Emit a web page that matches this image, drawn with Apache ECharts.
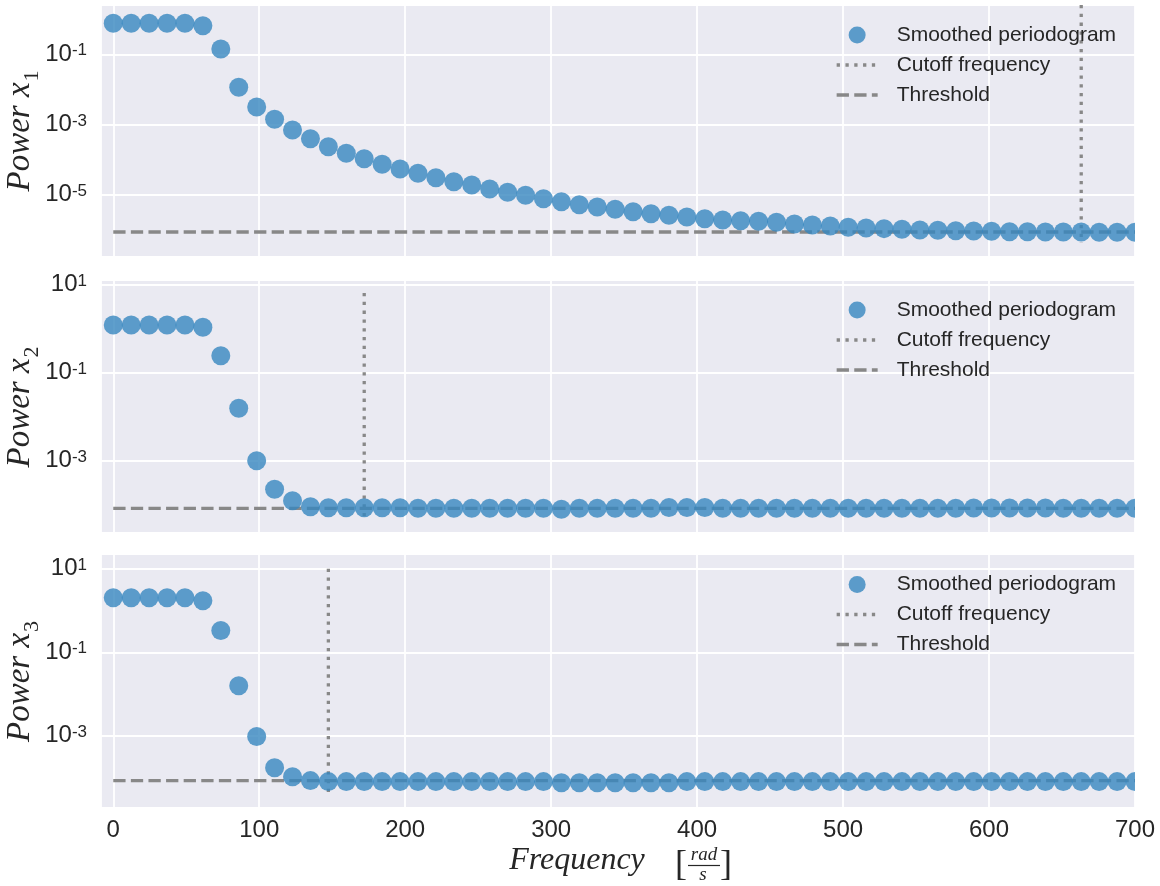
<!DOCTYPE html>
<html>
<head>
<meta charset="utf-8">
<script src="https://cdn.jsdelivr.net/npm/echarts@6/dist/echarts.min.js"></script>
<style>
  html, body { margin: 0; padding: 0; background: #ffffff; }
  #chart { width: 1160px; height: 886px; }
</style>
</head>
<body>
<div id="chart"></div>
<script>
// Frequency grid shared by all three state variables [rad/s]
const frequency = [
  0, 12.28, 24.56, 36.84, 49.12, 61.40, 73.68, 85.96, 98.25, 110.53,
  122.81, 135.09, 147.37, 159.65, 171.93, 184.21, 196.49, 208.77, 221.05, 233.33,
  245.61, 257.89, 270.18, 282.46, 294.74, 307.02, 319.30, 331.58, 343.86, 356.14,
  368.42, 380.70, 392.98, 405.26, 417.54, 429.82, 442.11, 454.39, 466.67, 478.95,
  491.23, 503.51, 515.79, 528.07, 540.35, 552.63, 564.91, 577.19, 589.47, 601.75,
  614.04, 626.32, 638.60, 650.88, 663.16, 675.44, 687.72, 700.00
];

// Smoothed periodogram of x1
const powerX1 = [
  0.766, 0.766, 0.766, 0.766, 0.766, 0.655, 0.1416, 0.01146, 3.13e-3, 1.40e-3,
  6.92e-4, 3.91e-4, 2.31e-4, 1.50e-4, 1.05e-4, 7.27e-5, 5.35e-5, 4.03e-5, 3.01e-5, 2.32e-5,
  1.87e-5, 1.43e-5, 1.16e-5, 9.49e-6, 7.59e-6, 6.23e-6, 5.12e-6, 4.40e-6, 3.78e-6, 3.23e-6,
  2.83e-6, 2.55e-6, 2.28e-6, 2.04e-6, 1.87e-6, 1.79e-6, 1.72e-6, 1.61e-6, 1.44e-6, 1.35e-6,
  1.26e-6, 1.16e-6, 1.11e-6, 1.06e-6, 1.02e-6, 9.7e-7, 9.5e-7, 9.27e-7, 9.1e-7, 8.9e-7,
  8.69e-7, 8.69e-7, 8.51e-7, 8.51e-7, 8.51e-7, 8.34e-7, 8.34e-7, 8.34e-7
];

// Smoothed periodogram of x2
const powerX2 = [
  1.21, 1.21, 1.21, 1.21, 1.21, 1.08, 0.243, 0.0155, 1.0e-3, 2.24e-4,
  1.23e-4, 9.0e-5, 8.55e-5, 8.55e-5, 8.55e-5, 8.55e-5, 8.5e-5, 8.3e-5, 8.3e-5, 8.3e-5,
  8.3e-5, 8.3e-5, 8.3e-5, 8.3e-5, 8.3e-5, 7.9e-5, 8.3e-5, 8.3e-5, 8.3e-5, 8.3e-5,
  8.3e-5, 8.6e-5, 8.6e-5, 8.6e-5, 8.3e-5, 8.3e-5, 8.3e-5, 8.3e-5, 8.3e-5, 8.3e-5,
  8.3e-5, 8.3e-5, 8.3e-5, 8.3e-5, 8.3e-5, 8.3e-5, 8.3e-5, 8.3e-5, 8.45e-5, 8.45e-5,
  8.45e-5, 8.45e-5, 8.45e-5, 8.3e-5, 8.3e-5, 8.3e-5, 8.3e-5, 8.3e-5
];

// Smoothed periodogram of x3
const powerX3 = [
  2.02, 2.02, 2.02, 2.02, 2.02, 1.71, 0.332, 0.0158, 9.6e-4, 1.71e-4,
  1.04e-4, 8.45e-5, 8.0e-5, 8.0e-5, 8.0e-5, 8.0e-5, 8.0e-5, 8.0e-5, 8.0e-5, 8.0e-5,
  8.0e-5, 8.0e-5, 8.0e-5, 8.0e-5, 8.0e-5, 7.5e-5, 7.5e-5, 7.5e-5, 7.5e-5, 7.5e-5,
  7.5e-5, 7.5e-5, 8.0e-5, 8.0e-5, 8.0e-5, 8.0e-5, 8.0e-5, 8.0e-5, 8.0e-5, 8.0e-5,
  8.0e-5, 8.0e-5, 8.0e-5, 8.0e-5, 8.0e-5, 8.0e-5, 8.0e-5, 8.0e-5, 8.0e-5, 8.0e-5,
  8.0e-5, 8.0e-5, 8.0e-5, 8.0e-5, 8.0e-5, 8.0e-5, 8.0e-5, 8.0e-5
];

const powers = [powerX1, powerX2, powerX3];
const variableIndex = ['1', '2', '3'];

// Cutoff frequency per variable and the span of its marker line
const cutoffFrequency = [663.16, 171.93, 147.37];
const cutoffLow = [4.2e-7, 4.47e-5, 3.83e-5];
const cutoffHigh = [2.55, 6.47, 10];

// Noise threshold per variable, drawn from 0 to 700 rad/s
const thresholdLevel = [8.5e-7, 8.28e-5, 8.45e-5];
const thresholdFrom = 0;
const thresholdTo = 700;

// Axis limits
const freqMin = -8.4;
const freqMax = 700;
const powerMin = [1.644e-7, 2.275e-5, 1.866e-5];
const powerMax = [2.551, 12.13, 21.33];

const seriesNames = ['Smoothed periodogram', 'Cutoff frequency', 'Threshold'];

const TEXT = '#262626';
const BG = '#eaeaf2';
const GRAY = '#888888';
const DOT = 'rgb(55,135,191)';
const CLEAR = 'rgba(0,0,0,0)';

const gridBoxes = [
  { left: 101, top: 5, width: 1034, height: 252 },
  { left: 101, top: 281, width: 1034, height: 252 },
  { left: 101, top: 555, width: 1034, height: 253 }
];
const grids = gridBoxes.map(g => Object.assign({ show: true, backgroundColor: BG, borderWidth: 0, containLabel: false, outerBoundsMode: 'none' }, g));

const legendTops = [19.5, 294.5, 569];

// Labels only on odd decades: 10^1, 10^-1, 10^-3, 10^-5
function powerLabel(v) {
  const e = Math.log10(v);
  const r = Math.round(e);
  if (Math.abs(e - r) > 1e-6 || r % 2 === 0) return '';
  return '{b|10}{s|' + r + '}';
}

const xAxes = grids.map((g, i) => ({
  type: 'value',
  gridIndex: i,
  min: freqMin,
  max: freqMax,
  axisLine: { show: false },
  axisTick: { show: false },
  axisLabel: {
    show: i === 2,
    showMinLabel: false,
    margin: 10,
    fontFamily: 'Liberation Sans',
    fontSize: 24,
    color: TEXT
  },
  splitLine: { show: true, lineStyle: { color: '#ffffff', width: 1.8 } }
}));

const yAxes = grids.map((g, i) => ({
  type: 'log',
  logBase: 10,
  gridIndex: i,
  min: powerMin[i],
  max: powerMax[i],
  axisLine: { show: false },
  axisTick: { show: false },
  // grid lines every second decade
  splitLine: { show: true, lineStyle: { color: ['#ffffff', CLEAR], width: 1.8 } },
  axisLabel: {
    margin: 14,
    formatter: powerLabel,
    rich: {
      b: { fontFamily: 'Liberation Sans', fontSize: 24, lineHeight: 24, color: TEXT, verticalAlign: 'bottom' },
      s: { fontFamily: 'Liberation Sans', fontSize: 17, lineHeight: 17, color: TEXT, verticalAlign: 'top', padding: [0, 0, 10, 0] }
    }
  },
  name: '{t|Power x}{s|' + variableIndex[i] + '}',
  nameLocation: 'middle',
  nameRotate: 90,
  nameGap: 61,
  nameMoveOverlap: false,
  nameTextStyle: {
    rich: {
      t: { fontFamily: 'Liberation Serif', fontStyle: 'italic', fontSize: 33, lineHeight: 36, color: TEXT, verticalAlign: 'top' },
      s: { fontFamily: 'Liberation Serif', fontSize: 22, lineHeight: 22, color: TEXT, verticalAlign: 'top', padding: [17, 0, 0, 1] }
    }
  }
}));

const series = [];
grids.forEach((g, i) => {
  series.push({
    name: 'Threshold',
    type: 'line',
    xAxisIndex: i,
    yAxisIndex: i,
    symbol: 'none',
    silent: true,
    z: 2,
    itemStyle: { color: CLEAR },
    lineStyle: { color: GRAY, width: 3.3, type: [12.3, 5.3], cap: 'butt' },
    data: [[thresholdFrom, thresholdLevel[i]], [thresholdTo, thresholdLevel[i]]]
  });
  series.push({
    name: 'Cutoff frequency',
    type: 'line',
    xAxisIndex: i,
    yAxisIndex: i,
    symbol: 'none',
    silent: true,
    z: 2,
    itemStyle: { color: CLEAR },
    lineStyle: { color: GRAY, width: 3.3, type: [3.3, 5.5], cap: 'butt' },
    data: [[cutoffFrequency[i], cutoffHigh[i]], [cutoffFrequency[i], cutoffLow[i]]]
  });
  series.push({
    name: 'Smoothed periodogram',
    type: 'scatter',
    xAxisIndex: i,
    yAxisIndex: i,
    symbol: 'circle',
    symbolSize: 19,
    silent: true,
    clip: true,
    z: 3,
    itemStyle: { color: DOT, opacity: 0.8 },
    data: frequency.map((f, k) => [f, powers[i][k]])
  });
});

const legends = grids.map((g, i) => ({
  orient: 'vertical',
  left: 830,
  top: legendTops[i],
  padding: 5,
  itemWidth: 41,
  itemHeight: 17,
  itemGap: 9,
  selectedMode: false,
  textStyle: { fontFamily: 'Liberation Sans', fontSize: 21, color: TEXT, padding: [0, 0, 0, 14] },
  data: [
    { name: seriesNames[0], itemStyle: { color: DOT, opacity: 0.8 } },
    { name: seriesNames[1], itemStyle: { opacity: 0 }, lineStyle: { width: 3.3, color: GRAY, type: [3.3, 5.5] } },
    { name: seriesNames[2], itemStyle: { opacity: 0 }, lineStyle: { width: 3.3, color: GRAY, type: [12.3, 5.3] } }
  ]
}));

// White margin strips to the right of each panel so markers stop at the frame edge
const rightMargins = gridBoxes.map(g => ({
  type: 'rect',
  z: 100,
  silent: true,
  shape: { x: g.left + g.width, y: g.top - 2, width: 30, height: g.height + 4 },
  style: { fill: '#ffffff' }
}));

const chart = echarts.init(document.getElementById('chart'), null, { renderer: 'canvas' });
chart.setOption({
  animation: false,
  backgroundColor: '#ffffff',
  grid: grids,
  xAxis: xAxes,
  yAxis: yAxes,
  legend: legends,
  series: series,
  graphic: rightMargins.concat([
    { type: 'text', x: 577, y: 861, style: { text: 'Frequency', font: 'italic 32px "Liberation Serif"', fill: TEXT, align: 'center', verticalAlign: 'middle' } },
    { type: 'text', x: 681, y: 866, style: { text: '[', font: '36px "Liberation Serif"', fill: TEXT, align: 'center', verticalAlign: 'middle' } },
    { type: 'text', x: 726, y: 866, style: { text: ']', font: '36px "Liberation Serif"', fill: TEXT, align: 'center', verticalAlign: 'middle' } },
    { type: 'text', x: 704, y: 855, style: { text: 'rad', font: 'italic 19px "Liberation Serif"', fill: TEXT, align: 'center', verticalAlign: 'middle' } },
    { type: 'line', shape: { x1: 688, y1: 865.5, x2: 720, y2: 865.5 }, style: { stroke: TEXT, lineWidth: 1.2 } },
    { type: 'text', x: 703, y: 875, style: { text: 's', font: 'italic 19px "Liberation Serif"', fill: TEXT, align: 'center', verticalAlign: 'middle' } }
  ])
});
</script>
</body>
</html>
